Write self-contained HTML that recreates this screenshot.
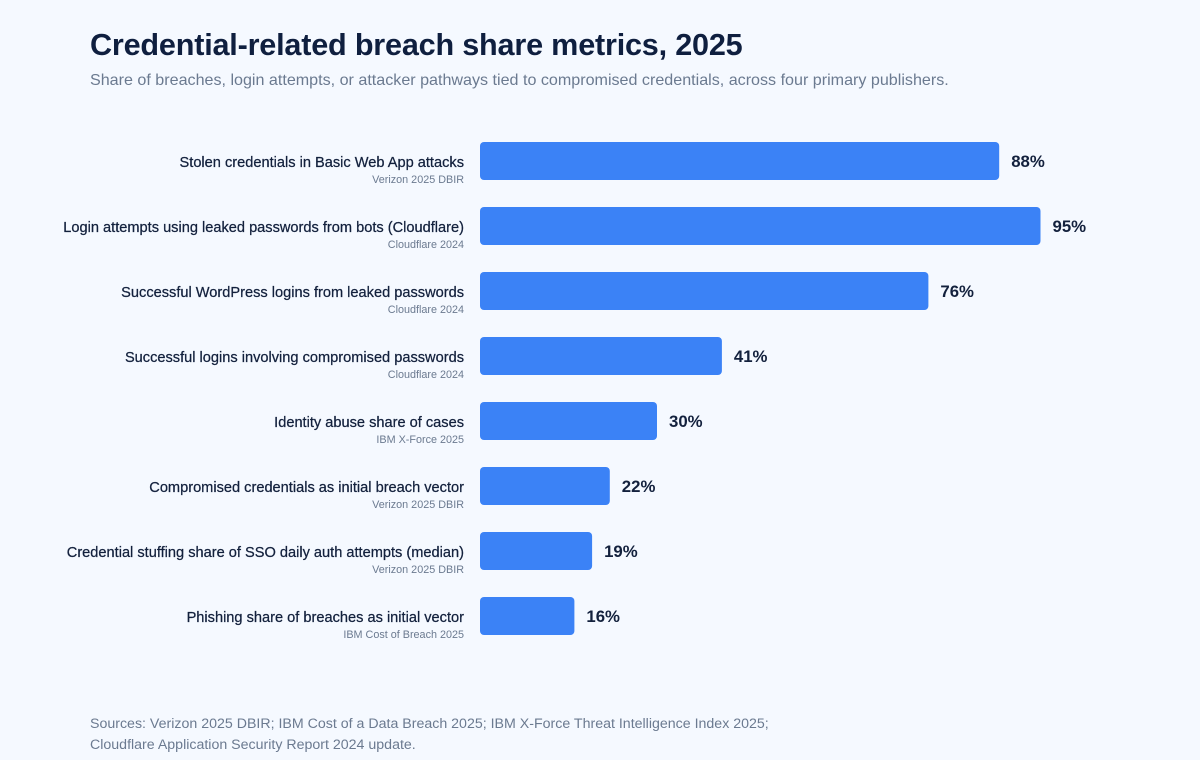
<!DOCTYPE html>
<html><head><meta charset="utf-8"><style>
html,body{margin:0;padding:0;}
body{width:1200px;height:760px;background:#f5f9ff;font-family:"Liberation Sans",sans-serif;position:relative;overflow:hidden;}
#title{position:absolute;left:90px;top:28px;font-size:30.6px;font-weight:bold;color:#0f1f3f;letter-spacing:-0.2px;}
#subtitle{position:absolute;left:90px;top:71px;font-size:16.1px;color:#6b7a90;}
#foot{position:absolute;left:90px;top:714px;font-size:14.2px;color:#6b7a90;line-height:21px;}
svg{position:absolute;left:0;top:0;}
</style></head><body>
<div id="title">Credential-related breach share metrics, 2025</div>
<div id="subtitle">Share of breaches, login attempts, or attacker pathways tied to compromised credentials, across four primary publishers.</div>
<svg id="chart" width="1200" height="760"></svg>
<div id="foot">Sources: Verizon 2025 DBIR; IBM Cost of a Data Breach 2025; IBM X-Force Threat Intelligence Index 2025;<br>Cloudflare Application Security Report 2024 update.</div>
<script>
const categories=["Stolen credentials in Basic Web App attacks","Login attempts using leaked passwords from bots (Cloudflare)","Successful WordPress logins from leaked passwords","Successful logins involving compromised passwords","Identity abuse share of cases","Compromised credentials as initial breach vector","Credential stuffing share of SSO daily auth attempts (median)","Phishing share of breaches as initial vector"];
const sources=["Verizon 2025 DBIR","Cloudflare 2024","Cloudflare 2024","Cloudflare 2024","IBM X-Force 2025","Verizon 2025 DBIR","Verizon 2025 DBIR","IBM Cost of Breach 2025"];
const values=[88,95,76,41,30,22,19,16];
const NS="http://www.w3.org/2000/svg";
const svg=document.getElementById('chart');
const x0=480,pxPer=5.9,top0=142,step=65,bh=38;
function xs(v){return v*pxPer;}
function yc(i){return top0+i*step;}
function mk(t,a){const e=document.createElementNS(NS,t);for(const k in a)e.setAttribute(k,a[k]);svg.appendChild(e);return e;}
values.forEach((v,i)=>{
  const r=mk('rect',{x:x0,y:yc(i),width:xs(v),height:bh,rx:4,fill:'#3b82f6'});
  
  
  const vl=mk('text',{x:x0+xs(v)+12,y:yc(i)+25,'font-size':16.8,'font-weight':'bold',fill:'#13213d'});
  vl.textContent=v+'%';
  
  
  const cl=mk('text',{x:464,y:yc(i)+25,'font-size':14.6,'text-anchor':'end',fill:'#13213d',stroke:'#13213d','stroke-width':0.25});
  cl.textContent=categories[i];
  
  
  const sl=mk('text',{x:464,y:yc(i)+41,'font-size':10.8,'text-anchor':'end',fill:'#6b7a90'});
  sl.textContent=sources[i];
  
  
});
</script>
</body></html>
